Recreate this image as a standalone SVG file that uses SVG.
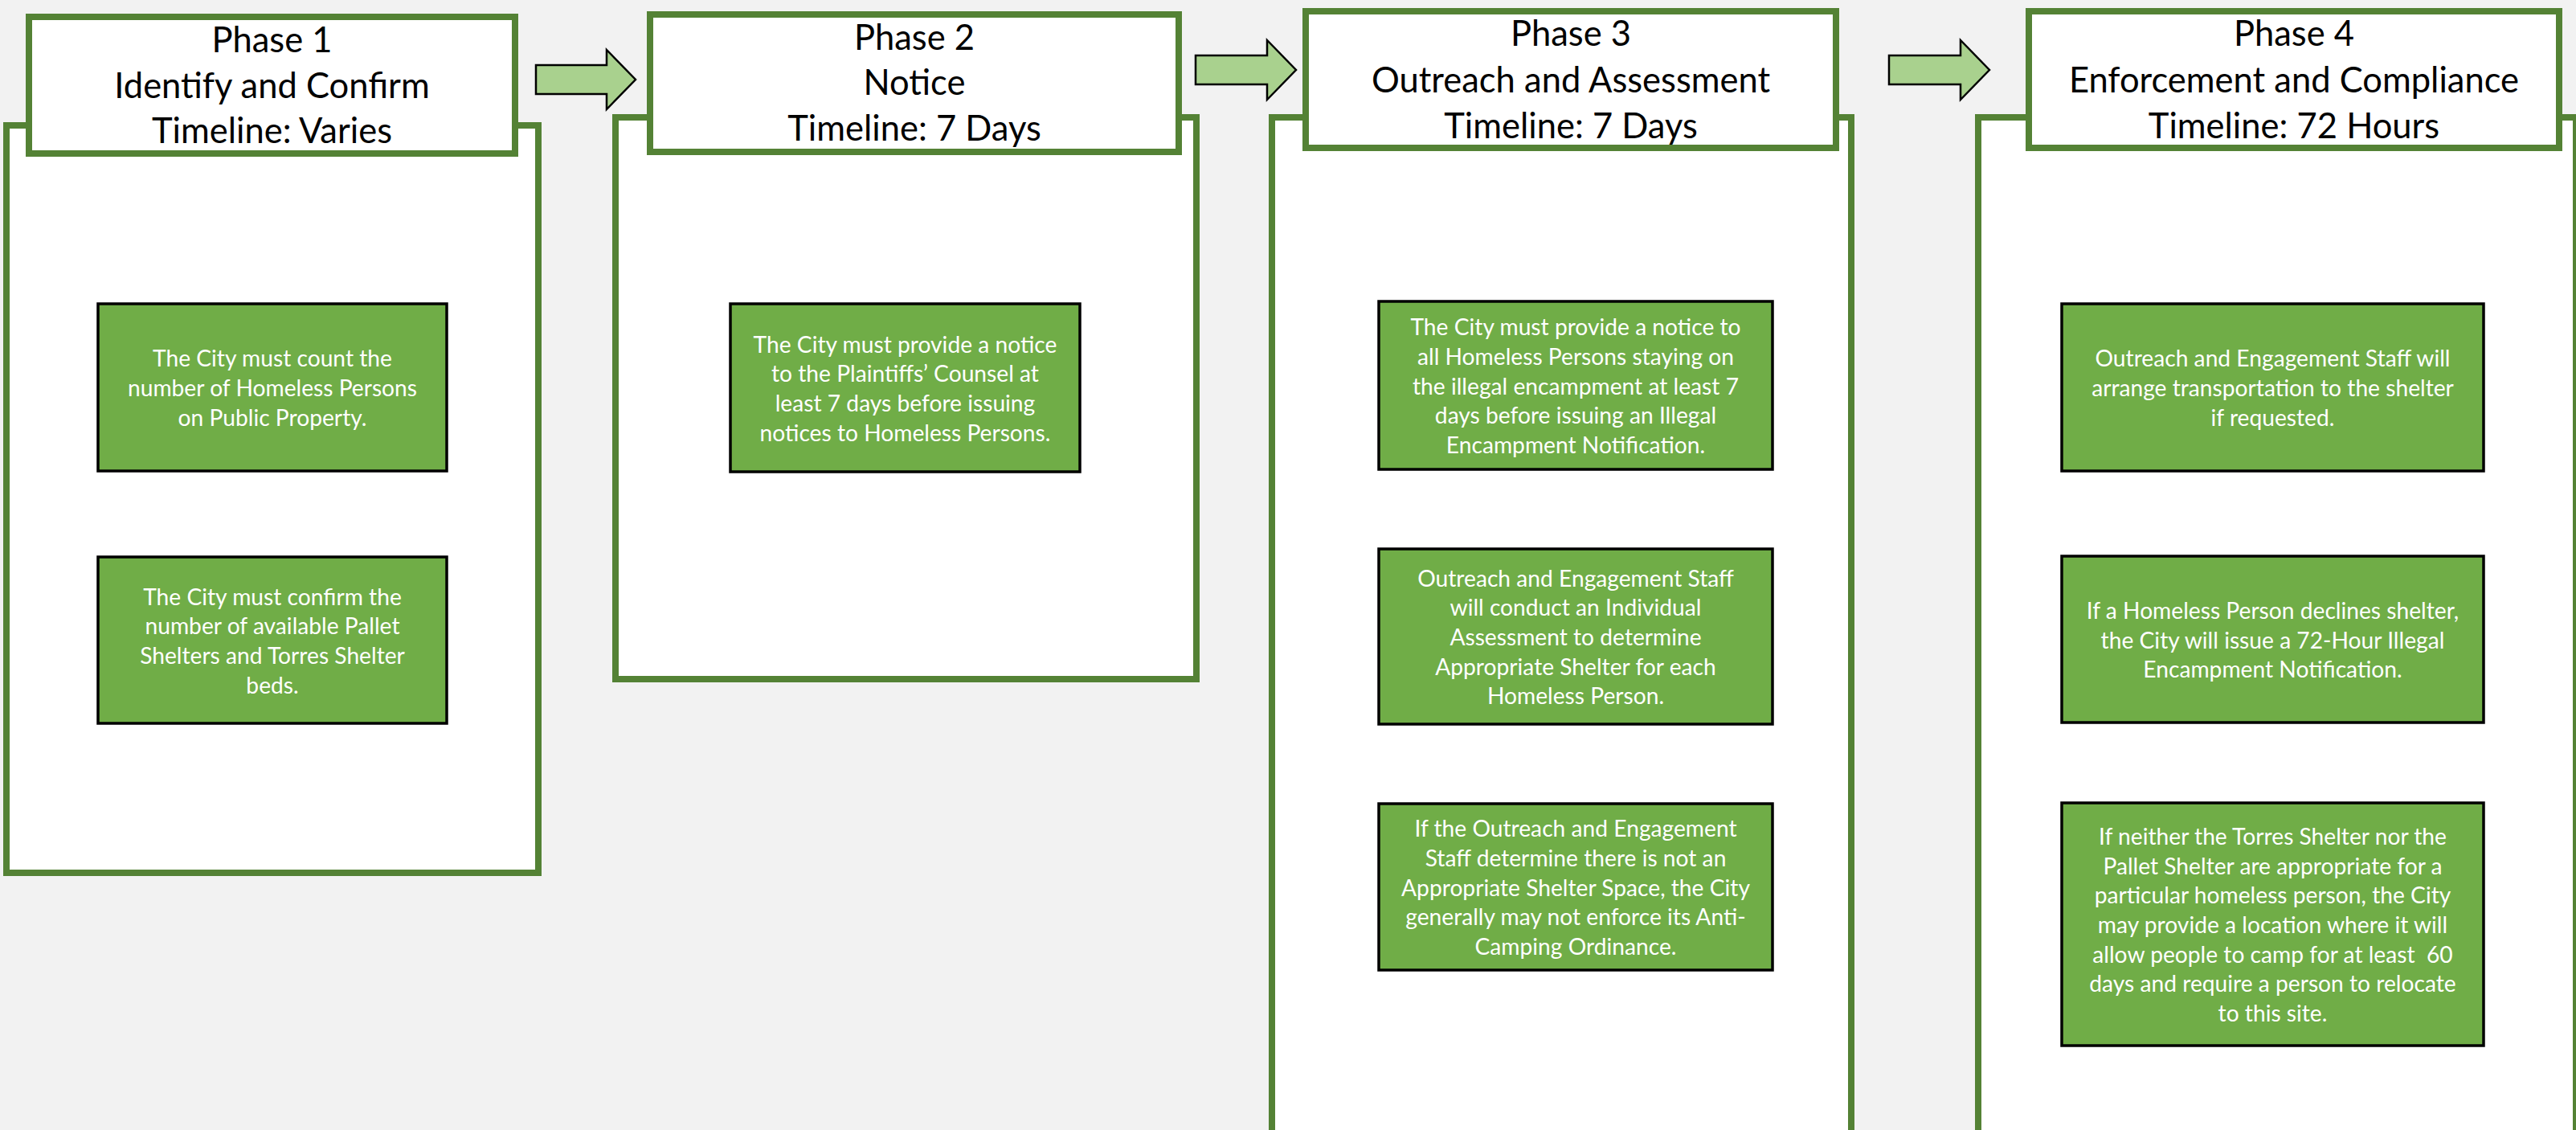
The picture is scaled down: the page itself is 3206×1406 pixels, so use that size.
<svg xmlns="http://www.w3.org/2000/svg" width="3206" height="1406" viewBox="0 0 3206 1406">
<style>
.frame{fill:#FFFFFF;stroke:#548235;stroke-width:8}
.box{fill:#70AD47;stroke:#000000;stroke-width:3.5}
.arrow{fill:#A9D18E;stroke:#000000;stroke-width:2.5;stroke-linejoin:miter}
.title{font-family:Lato,"Liberation Sans",sans-serif;font-size:43.5px;fill:#000000;text-anchor:middle}
.txt{font-family:Lato,"Liberation Sans",sans-serif;font-size:28.2px;fill:#FFFFFF;text-anchor:middle}
</style>
<rect x="0" y="0" width="3206" height="1406" fill="#F2F2F2"/>

<g id="phase1">
  <rect class="frame" x="8" y="156" width="662" height="930"/>
  <rect class="frame" x="36" y="21" width="605" height="170"/>
  <text class="title"><tspan x="338.5" y="65">Phase 1</tspan><tspan x="338.5" y="122">Identify and Confirm</tspan><tspan x="338.5" y="178">Timeline: Varies</tspan></text>
</g>
<g id="phase2">
  <rect class="frame" x="766" y="146" width="723" height="699"/>
  <rect class="frame" x="809" y="18" width="658" height="171"/>
  <text class="title"><tspan x="1138" y="62">Phase 2</tspan><tspan x="1138" y="118">Notice</tspan><tspan x="1138" y="175">Timeline: 7 Days</tspan></text>
</g>
<g id="phase3">
  <rect class="frame" x="1583" y="146" width="721" height="1300"/>
  <rect class="frame" x="1625" y="14" width="660" height="170"/>
  <text class="title"><tspan x="1955" y="57">Phase 3</tspan><tspan x="1955" y="115">Outreach and Assessment</tspan><tspan x="1955" y="172">Timeline: 7 Days</tspan></text>
</g>
<g id="phase4">
  <rect class="frame" x="2462" y="146" width="744" height="1300"/>
  <rect class="frame" x="2525" y="14" width="660" height="170"/>
  <text class="title"><tspan x="2855" y="57">Phase 4</tspan><tspan x="2855" y="115">Enforcement and Compliance</tspan><tspan x="2855" y="172">Timeline: 72 Hours</tspan></text>
</g>

<g id="p1-count">
  <rect class="box" x="122" y="378" width="434" height="208"/>
  <text class="txt"><tspan x="339" y="456">The City must count the</tspan><tspan x="339" y="493">number of Homeless Persons</tspan><tspan x="339" y="530">on Public Property.</tspan></text>
</g>
<g id="p1-confirm">
  <rect class="box" x="122" y="693" width="434" height="207"/>
  <text class="txt"><tspan x="339" y="752.5">The City must confirm the</tspan><tspan x="339" y="789.2">number of available Pallet</tspan><tspan x="339" y="825.9">Shelters and Torres Shelter</tspan><tspan x="339" y="862.6">beds.</tspan></text>
</g>
<g id="p2-notice">
  <rect class="box" x="909" y="378" width="435" height="209"/>
  <text class="txt"><tspan x="1126.5" y="438.5">The City must provide a notice</tspan><tspan x="1126.5" y="475.1">to the Plaintiffs’ Counsel at</tspan><tspan x="1126.5" y="511.9">least 7 days before issuing</tspan><tspan x="1126.5" y="548.6">notices to Homeless Persons.</tspan></text>
</g>
<g id="p3-notice">
  <rect class="box" x="1716" y="375" width="490" height="209"/>
  <text class="txt"><tspan x="1961" y="417.1">The City must provide a notice to</tspan><tspan x="1961" y="453.8">all Homeless Persons staying on</tspan><tspan x="1961" y="490.5">the illegal encampment at least 7</tspan><tspan x="1961" y="527.2">days before issuing an Illegal</tspan><tspan x="1961" y="563.9">Encampment Notification.</tspan></text>
</g>
<g id="p3-assessment">
  <rect class="box" x="1716" y="683" width="490" height="218"/>
  <text class="txt"><tspan x="1961" y="729.6">Outreach and Engagement Staff</tspan><tspan x="1961" y="766.3">will conduct an Individual</tspan><tspan x="1961" y="803">Assessment to determine</tspan><tspan x="1961" y="839.7">Appropriate Shelter for each</tspan><tspan x="1961" y="876.4">Homeless Person.</tspan></text>
</g>
<g id="p3-noshelter">
  <rect class="box" x="1716" y="1000" width="490" height="207"/>
  <text class="txt"><tspan x="1961" y="1041.1">If the Outreach and Engagement</tspan><tspan x="1961" y="1077.8">Staff determine there is not an</tspan><tspan x="1961" y="1114.5">Appropriate Shelter Space, the City</tspan><tspan x="1961" y="1151.2">generally may not enforce its Anti-</tspan><tspan x="1961" y="1187.9">Camping Ordinance.</tspan></text>
</g>
<g id="p4-transport">
  <rect class="box" x="2566" y="378" width="525" height="208"/>
  <text class="txt"><tspan x="2828.5" y="456.3">Outreach and Engagement Staff will</tspan><tspan x="2828.5" y="493">arrange transportation to the shelter</tspan><tspan x="2828.5" y="529.7">if requested.</tspan></text>
</g>
<g id="p4-declines">
  <rect class="box" x="2566" y="692" width="525" height="207"/>
  <text class="txt"><tspan x="2828.5" y="769.8">If a Homeless Person declines shelter,</tspan><tspan x="2828.5" y="806.5">the City will issue a 72-Hour Illegal</tspan><tspan x="2828.5" y="843.2">Encampment Notification.</tspan></text>
</g>
<g id="p4-location">
  <rect class="box" x="2566" y="999" width="525" height="302"/>
  <text class="txt" style="white-space:pre"><tspan x="2828.5" y="1050.9">If neither the Torres Shelter nor the</tspan><tspan x="2828.5" y="1087.6">Pallet Shelter are appropriate for a</tspan><tspan x="2828.5" y="1124.3">particular homeless person, the City</tspan><tspan x="2828.5" y="1161">may provide a location where it will</tspan><tspan x="2828.5" y="1197.7">allow people to camp for at least  60</tspan><tspan x="2828.5" y="1234.4">days and require a person to relocate</tspan><tspan x="2828.5" y="1271.1">to this site.</tspan></text>
</g>

<g id="connectors">
  <polygon class="arrow" points="667,81 755,81 755,62 791,99 755,136 755,117 667,117"/>
  <polygon class="arrow" points="1488,69 1577,69 1577,50 1613,87 1577,124 1577,105 1488,105"/>
  <polygon class="arrow" points="2351,69 2440,69 2440,50 2476,87 2440,124 2440,105 2351,105"/>
</g>
</svg>
